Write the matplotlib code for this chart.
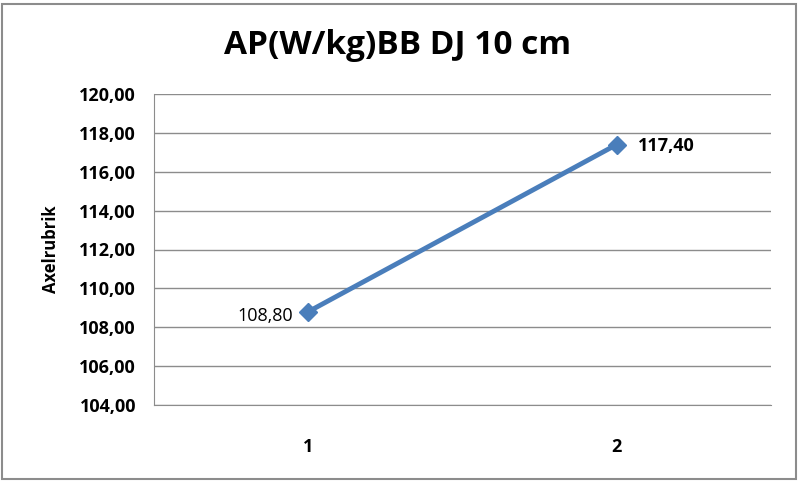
import matplotlib.pyplot as plt
from matplotlib.patches import Rectangle

categories = ['1', '2']
values = [108.80, 117.40]
labels = ['108,80', '117,40']
yticks = [104, 106, 108, 110, 112, 114, 116, 118, 120]

plt.rcParams['font.family'] = ['Open Sans', 'DejaVu Sans']

fig = plt.figure(figsize=(8, 4.82), dpi=100)
ax = fig.add_axes([154/800, 1 - 405/482, (771-154)/800, (405-94)/482])

x = [1, 2]
ax.plot(x, values, color='#4A7EBB', lw=3.5, marker='D', ms=9, zorder=3)
ax.text(x[0] - 0.05, values[0] - 0.2, labels[0], ha='right', va='center', fontsize=13)
ax.text(x[1] + 0.07, values[1] - 0.1, labels[1], ha='left', va='center', fontsize=13, fontweight='bold')

ax.set_xlim(0.5, 2.5)
ax.set_ylim(104, 120)
ax.set_xticks(x)
ax.set_xticklabels(categories, fontsize=13, fontweight='bold')
ax.set_yticks(yticks)
ax.set_yticklabels([f'{v:.2f}'.replace('.', ',') for v in yticks], fontsize=13, fontweight='bold')
ax.tick_params(length=0, pad=13)
ax.tick_params(axis='x', pad=24)
ax.yaxis.grid(True, color='#8c8c8c', lw=1)
ax.set_axisbelow(True)
for s in ['top', 'right']:
    ax.spines[s].set_visible(False)
for s in ['left', 'bottom']:
    ax.spines[s].set_color('#8c8c8c')
ax.set_ylabel('Axelrubrik', fontsize=12, fontweight='bold', labelpad=14)

fig.text(398/800, 1 - 45/482, 'AP(W/kg)BB DJ 10 cm', ha='center', va='center',
         fontsize=24, fontweight='bold')
fig.patches.append(Rectangle((2/800, 3/482), 794/800, 475/482, transform=fig.transFigure,
                             fill=False, ec='#8c8c8c', lw=1.5))

fig.savefig('out.png', dpi=100)
